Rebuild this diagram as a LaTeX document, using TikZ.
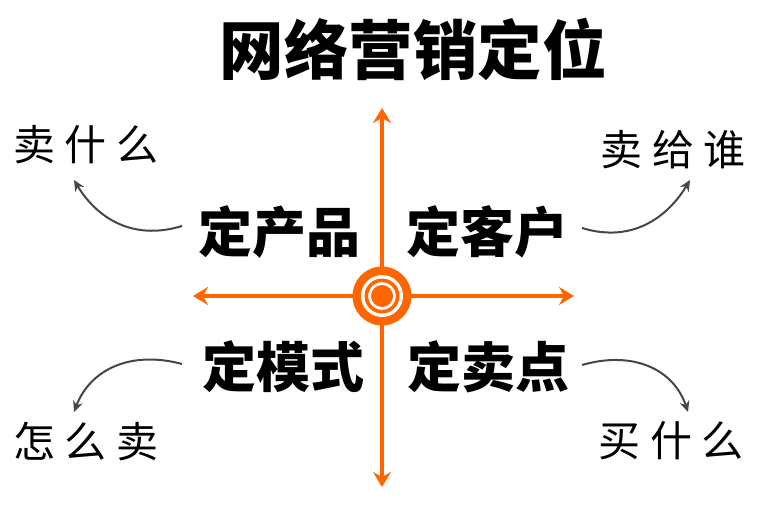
\documentclass[tikz,border=0pt]{standalone}
\usepackage{fontspec}
\usetikzlibrary{arrows.meta}
\newfontfamily\cjk{Noto Sans CJK SC}
\definecolor{axisorange}{RGB}{255,102,0}
\definecolor{curvegray}{RGB}{70,70,70}

\begin{document}
\begin{tikzpicture}[
    x=1pt, y=-1pt,
    >=Stealth,              % arrow tip style
    title/.style={font=\cjk\bfseries\fontsize{64.5}{64.5}\selectfont, inner sep=0pt},
    quad/.style={font=\cjk\bfseries\fontsize{54}{54}\selectfont, inner sep=0pt},
    note/.style={font=\cjk\fontsize{42}{42}\selectfont, inner sep=0pt},
    axis/.style={axisorange, line width=4pt, -{Stealth[length=15pt, width=18pt, inset=5pt]}},
    curvearrow/.style={curvegray, line width=2pt, -{Stealth[length=11pt, width=10pt]}}]
    \useasboundingbox (0,0) rectangle (763,513);

    % Title
    \node[title] (head) at (413,49) {网络营销定位};

    % Axes
    \coordinate (O) at (382,296);
    \coordinate (top) at (382,108);
    \coordinate (bottom) at (382,487);
    \coordinate (left) at (193,296);
    \coordinate (right) at (574,296);
    \draw[axis] (O) -- (top);
    \draw[axis] (O) -- (bottom);
    \draw[axis] (O) -- (left);
    \draw[axis] (O) -- (right);

    % Target
    \fill[axisorange] (O) circle (29.5);
    \fill[white] (O) circle (21);
    \fill[axisorange] (O) circle (17.5);
    \fill[white] (O) circle (13.8);
    \fill[axisorange] (O) circle (11);

    % Quadrants
    \node[quad] (product) at (279,232) {定产品};
    \node[quad] (client) at (487,232) {定客户};
    \node[quad] (model) at (283,367) {定模式};
    \node[quad] (point) at (488,367) {定卖点};

    % Corner notes
    \node[note] (what) at (86,145) {卖\hspace{10pt}什\hspace{10pt}么};
    \node[note] (whom) at (673,150) {卖\hspace{10pt}给\hspace{10pt}谁};
    \node[note] (how) at (86,441) {怎\hspace{10pt}么\hspace{10pt}卖};
    \node[note] (buy) at (671,441) {买\hspace{10pt}什\hspace{10pt}么};

    % Curved arrows
    \coordinate (a1) at (182,226);
    \coordinate (b1) at (74,180);
    \coordinate (a2) at (582,228);
    \coordinate (b2) at (690,180);
    \coordinate (a3) at (182,364);
    \coordinate (b3) at (74,412);
    \coordinate (a4) at (582,365);
    \coordinate (b4) at (688,412);
    \draw[curvearrow] (a1) .. controls (130,242) and (95,215) .. (b1);
    \draw[curvearrow] (a2) .. controls (634,244) and (669,215) .. (b2);
    \draw[curvearrow] (a3) .. controls (130,350) and (90,370) .. (b3);
    \draw[curvearrow] (a4) .. controls (634,350) and (674,370) .. (b4);
\end{tikzpicture}
\end{document}
